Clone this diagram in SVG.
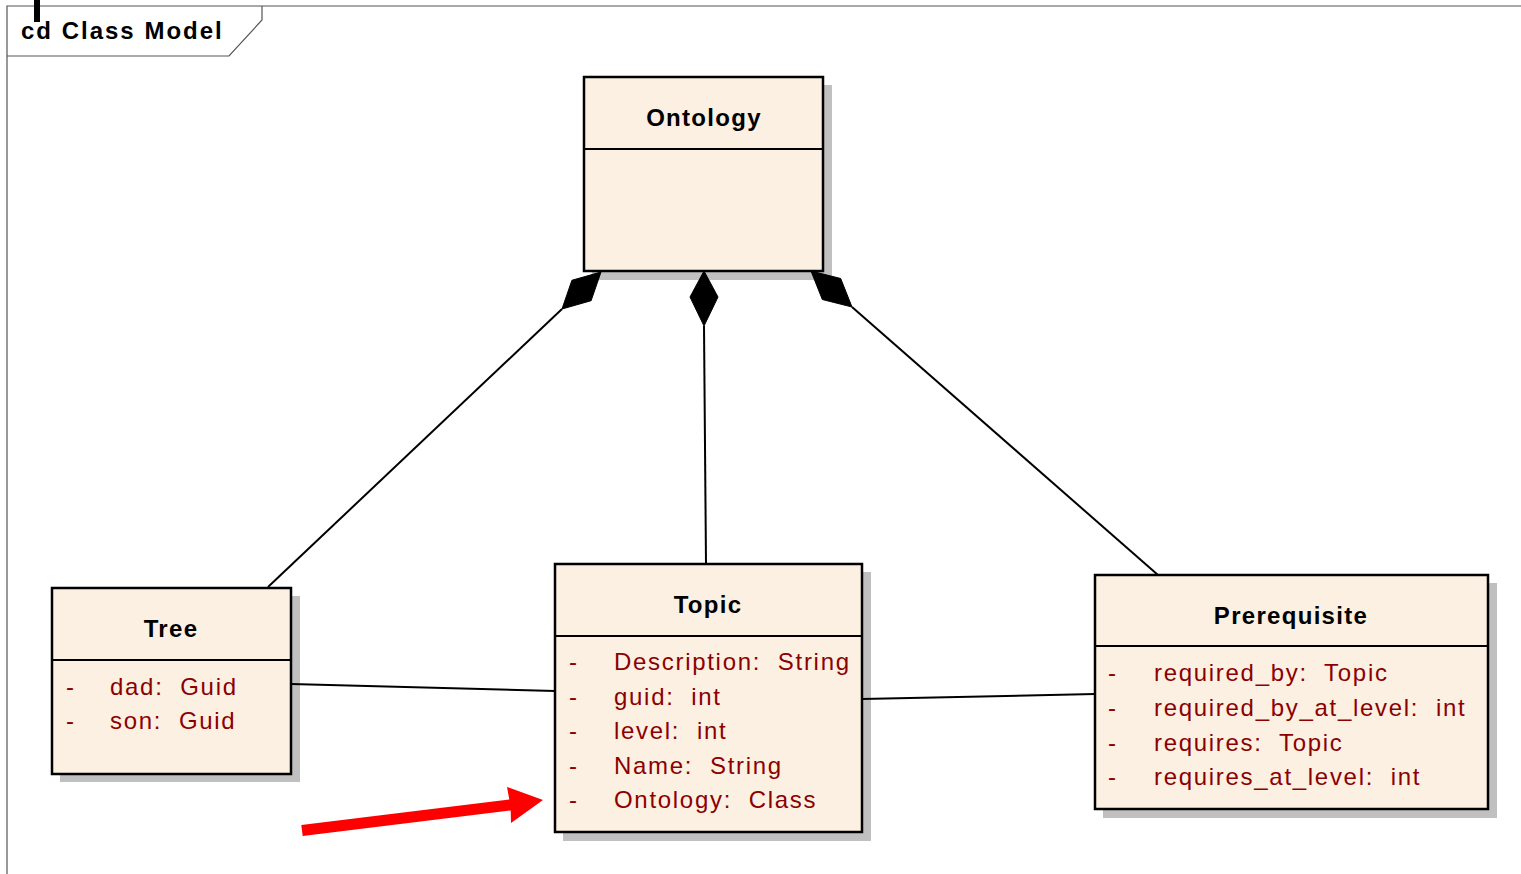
<svg xmlns="http://www.w3.org/2000/svg" width="1521" height="874" viewBox="0 0 1521 874">
<style>
.frame{fill:none;stroke:#555;stroke-width:1.2}
.shadow{fill:#c0c0c0}
.box{fill:#fbf0e2;stroke:#000;stroke-width:2.5}
.div{stroke:#000;stroke-width:2}
.title{font-family:"Liberation Sans",Arial,sans-serif;font-weight:bold;font-size:24px;letter-spacing:1.3px;fill:#000;text-anchor:middle}
.attr{font-family:"Liberation Sans",Arial,sans-serif;font-size:24px;letter-spacing:1.7px;fill:#8b0000;white-space:pre}
.conn{stroke:#000;stroke-width:2;fill:none}
.dia{fill:#000;stroke:#000;stroke-width:1}
</style>
<rect width="1521" height="874" fill="#fff"/>
<g id="frame">
<path class="frame" d="M7,874 V6 H1521"/>
<path class="frame" d="M7,56 H229 L262,20 V6"/>
<rect x="34" y="0" width="6" height="22" fill="#000"/>
<text x="21" y="39" style="font-family:'Liberation Sans',Arial,sans-serif;font-weight:bold;font-size:24px;letter-spacing:2px">cd Class Model</text>
</g>
<g id="ontology">
<rect class="shadow" x="592" y="85" width="240" height="195"/>
<rect class="box" x="584" y="77" width="239" height="194"/>
<line class="div" x1="584" y1="149" x2="823" y2="149"/>
<text class="title" x="704" y="126">Ontology</text>
</g>
<g id="tree">
<rect class="shadow" x="60" y="596" width="240" height="186"/>
<rect class="box" x="52" y="588" width="239" height="186"/>
<line class="div" x1="52" y1="660" x2="291" y2="660"/>
<text class="title" x="171" y="637">Tree</text>
<text class="attr" x="66" y="695">-</text><text class="attr" x="110" y="695">dad:  Guid</text>
<text class="attr" x="66" y="729">-</text><text class="attr" x="110" y="729">son:  Guid</text>
</g>
<g id="topic">
<rect class="shadow" x="563" y="572" width="308" height="269"/>
<rect class="box" x="555" y="564" width="307" height="268"/>
<line class="div" x1="555" y1="636" x2="862" y2="636"/>
<text class="title" x="708" y="613">Topic</text>
<text class="attr" x="569" y="670">-</text><text class="attr" x="614" y="670">Description:  String</text>
<text class="attr" x="569" y="705">-</text><text class="attr" x="614" y="705">guid:  int</text>
<text class="attr" x="569" y="739">-</text><text class="attr" x="614" y="739">level:  int</text>
<text class="attr" x="569" y="774">-</text><text class="attr" x="614" y="774">Name:  String</text>
<text class="attr" x="569" y="808">-</text><text class="attr" x="614" y="808">Ontology:  Class</text>
</g>
<g id="prerequisite">
<rect class="shadow" x="1103" y="583" width="394" height="235"/>
<rect class="box" x="1095" y="575" width="393" height="234"/>
<line class="div" x1="1095" y1="646" x2="1488" y2="646"/>
<text class="title" x="1291" y="624">Prerequisite</text>
<text class="attr" x="1108" y="681">-</text><text class="attr" x="1154" y="681">required_by:  Topic</text>
<text class="attr" x="1108" y="716">-</text><text class="attr" x="1154" y="716">required_by_at_level:  int</text>
<text class="attr" x="1108" y="751">-</text><text class="attr" x="1154" y="751">requires:  Topic</text>
<text class="attr" x="1108" y="785">-</text><text class="attr" x="1154" y="785">requires_at_level:  int</text>
</g>
<g id="connectors">
<line class="conn" x1="268" y1="587" x2="562" y2="309"/>
<line class="conn" x1="704" y1="326" x2="706" y2="564"/>
<line class="conn" x1="852" y1="307" x2="1158" y2="575"/>
<line class="conn" x1="291" y1="684" x2="555" y2="691"/>
<line class="conn" x1="862" y1="699" x2="1095" y2="694"/>
<polygon class="dia" points="601,272 591.1,300.7 562,309 571.9,280.3"/>
<polygon class="dia" points="704,271 718,297 704,326 690,297"/>
<polygon class="dia" points="811,271 840.7,278.5 852,307 822.3,299.5"/>
</g>
<g id="red-arrow">
<polygon fill="#ff0000" points="302.7,836 301.3,825 509.3,799.5 507,787 543,800 511,823 510.7,810.5"/>
</g>
</svg>
